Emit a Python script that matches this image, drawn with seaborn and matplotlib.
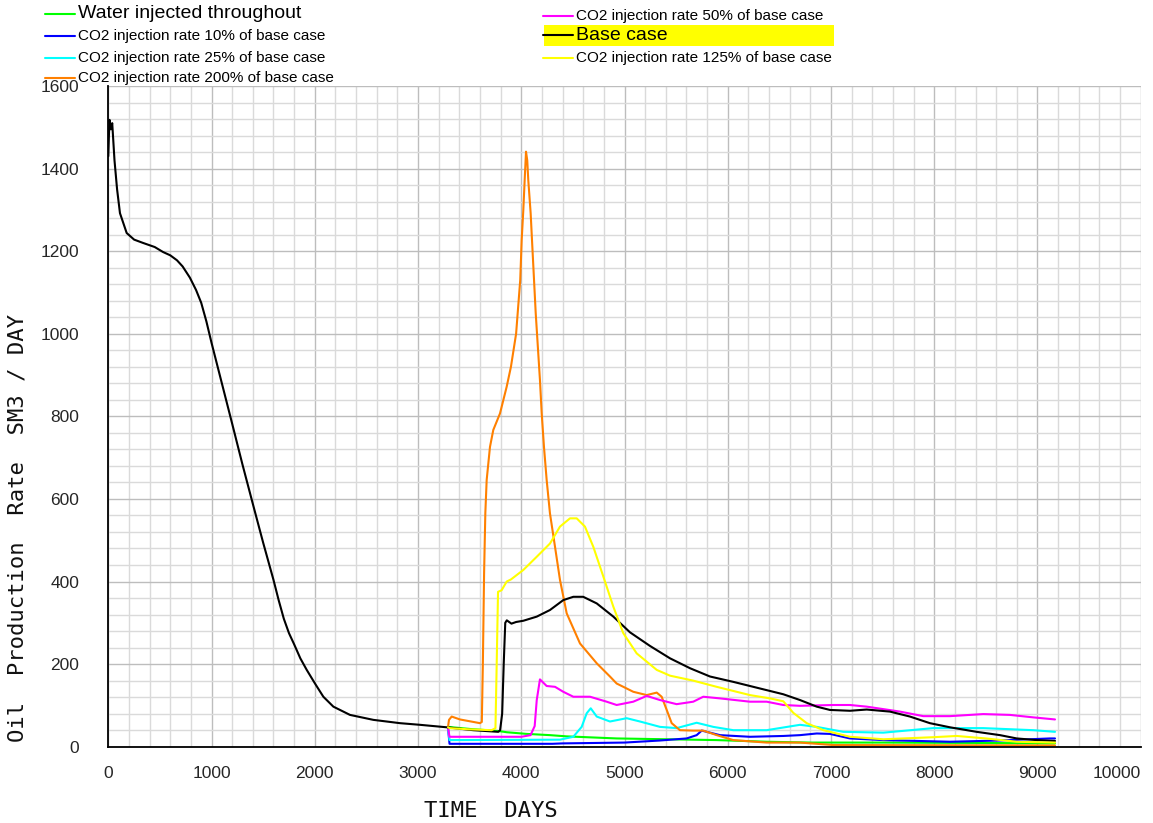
import numpy as np
import pandas as pd
import matplotlib
matplotlib.use("Agg")
import matplotlib.pyplot as plt
from matplotlib.lines import Line2D
from matplotlib.patches import Rectangle
from matplotlib.ticker import MultipleLocator
import seaborn as sns

# ---------------- data ----------------
t_base = [0, 6, 12, 25, 38, 60, 85, 113, 178, 250, 336, 450, 530, 600, 665, 720,
          790, 850, 900, 950, 1000, 1100, 1200, 1300, 1400, 1500, 1600, 1650, 1700,
          1750, 1800, 1860, 1922, 2002, 2083, 2180, 2341, 2567, 2825, 3019, 3278,
          3535, 3778, 3795, 3815, 3830, 3845, 3860, 3905, 3950, 4020, 4150, 4278,
          4407, 4504, 4600, 4731, 4892, 5053, 5247, 5441, 5635, 5828, 6054, 6312,
          6538, 6700, 6862, 6990, 7184, 7346, 7571, 7765, 7958, 8152, 8411, 8637,
          8799, 8992, 9170]
q_base = [1430, 1480, 1518, 1495, 1510, 1420, 1350, 1292, 1244, 1228, 1220, 1210,
          1198, 1190, 1178, 1163, 1136, 1106, 1075, 1030, 978, 880, 782, 683, 588,
          494, 404, 355, 310, 275, 248, 214, 186, 153, 121, 97, 77, 65, 57, 53, 47,
          40, 36, 40, 80, 200, 300, 306, 298, 302, 305, 315, 331, 355, 363, 363,
          347, 315, 277, 244, 214, 190, 170, 157, 141, 127, 113, 97, 89, 87, 90, 85,
          73, 57, 47, 36, 28, 20, 16, 14]

t_water = [3290, 3500, 3780, 3860, 4053, 4278, 4440, 4924, 5409, 5893, 6377, 6800,
           7500, 8500, 9170]
q_water = [48, 43, 38, 35, 31, 28, 25, 20, 18, 16, 12, 10, 10, 9, 8]

t_10 = [3290, 3305, 4300, 4400, 5000, 5344, 5602, 5699, 5748, 5796, 5925, 6215,
        6538, 6700, 6862, 6990, 7184, 7507, 8152, 8637, 9121, 9170]
q_10 = [47, 7, 7, 8, 10, 15, 20, 28, 39, 36, 28, 24, 26, 28, 32, 31, 20, 16, 12,
        15, 20, 20]

t_25 = [3290, 3305, 4375, 4504, 4585, 4634, 4673, 4731, 4859, 5021, 5150, 5344,
        5505, 5699, 5860, 6054, 6377, 6700, 6862, 7120, 7507, 7991, 8475, 8960, 9170]
q_25 = [47, 16, 17, 24, 48, 81, 93, 73, 61, 69, 61, 48, 45, 58, 48, 40, 40, 53,
        48, 36, 34, 45, 45, 40, 36]

t_200 = [3290, 3300, 3326, 3406, 3600, 3618, 3628, 3640, 3652, 3665, 3697, 3729,
         3794, 3859, 3900, 3950, 3990, 4004, 4020, 4033, 4046, 4058, 4068, 4091,
         4104, 4140, 4181, 4198, 4220, 4246, 4278, 4327, 4375, 4440, 4569, 4731,
         4859, 4924, 5085, 5215, 5312, 5360, 5409, 5457, 5537, 5666, 5763, 5893,
         6054, 6377, 6700, 7023, 9170]
q_200 = [47, 65, 73, 66, 57, 60, 200, 420, 566, 646, 726, 767, 807, 872, 920,
         1000, 1130, 1227, 1300, 1372, 1441, 1420, 1372, 1292, 1227, 1050, 888,
         807, 726, 646, 565, 484, 404, 323, 250, 202, 170, 153, 133, 125, 131, 121,
         89, 57, 40, 39, 39, 28, 16, 10, 10, 4, 3]

t_50 = [3290, 3305, 4000, 4090, 4130, 4150, 4181, 4246, 4327, 4407, 4504, 4666,
        4827, 4924, 5085, 5215, 5344, 5505, 5666, 5763, 5925, 6215, 6377, 6538,
        6700, 7023, 7184, 7346, 7668, 7894, 8152, 8475, 8734, 8960, 9170]
q_50 = [47, 24, 24, 28, 50, 113, 163, 147, 145, 133, 121, 121, 109, 101, 109,
        123, 113, 103, 109, 121, 117, 109, 109, 101, 99, 101, 101, 97, 85, 74, 74,
        79, 77, 71, 66]

t_125 = [3290, 3305, 3500, 3713, 3750, 3762, 3775, 3810, 3859, 3900, 4020, 4150,
         4278, 4375, 4472, 4537, 4617, 4698, 4795, 4892, 4988, 5118, 5312, 5441,
         5666, 5893, 6215, 6409, 6538, 6635, 6765, 6926, 7184, 7507, 7991, 8217,
         8500, 8800, 9170]
q_125 = [47, 45, 42, 40, 45, 200, 375, 379, 400, 405, 428, 460, 492, 533, 553,
         553, 533, 484, 412, 339, 275, 226, 186, 172, 160, 145, 125, 117, 110, 82,
         57, 40, 24, 18, 23, 26, 20, 12, 10]

labels = ["Water injected throughout",
          "CO2 injection rate 10% of base case",
          "CO2 injection rate 25% of base case",
          "CO2 injection rate 200% of base case",
          "CO2 injection rate 50% of base case",
          "Base case",
          "CO2 injection rate 125% of base case"]
colors = ["#00ff00", "#0000ff", "#00ffff", "#ff8000", "#ff00ff", "#000000", "#ffff00"]
series = [(t_water, q_water), (t_10, q_10), (t_25, q_25), (t_200, q_200),
          (t_50, q_50), (t_base, q_base), (t_125, q_125)]

x_major = np.arange(0, 10001, 1000)
y_major = np.arange(0, 1601, 200)

# ---------------- build long-form table ----------------
frames = []
for lab, (t, q) in zip(labels, series):
    frames.append(pd.DataFrame({"TIME": t, "RATE": q, "case": lab}))
df = pd.concat(frames, ignore_index=True)
palette = dict(zip(labels, colors))

sns.set_style("white")
plt.rcParams['font.family'] = ['Liberation Sans', 'DejaVu Sans']

W, H = 1153, 823
fig = plt.figure(figsize=(W / 100, H / 100), dpi=100)
ax = fig.add_axes([108.3 / W, (H - 746.7) / H, (1140.7 - 108.3) / W, (746.7 - 86) / H])

sns.lineplot(data=df, x="TIME", y="RATE", hue="case", hue_order=labels,
             palette=palette, estimator=None, sort=False, legend=False,
             linewidth=1.5, ax=ax)

ax.set_xlim(0, 10000)
ax.set_ylim(0, 1600)
ax.set_xticks(x_major)
ax.set_yticks(y_major)
ax.xaxis.set_minor_locator(MultipleLocator(200))
ax.yaxis.set_minor_locator(MultipleLocator(40))
ax.grid(which="major", color="#bdbdbd", linewidth=1.0)
ax.grid(which="minor", color="#dadada", linewidth=1.0)
ax.set_axisbelow(True)
ax.set_xlabel("")
ax.set_ylabel("")

for s in ["top", "right"]:
    ax.spines[s].set_visible(False)
for s in ["left", "bottom"]:
    ax.spines[s].set_color("black")
    ax.spines[s].set_linewidth(1.3)

ax.tick_params(axis="y", which="major", direction="out", length=16, width=1.2,
               color="black", labelsize=12.5, pad=5)
ax.tick_params(axis="y", which="minor", direction="out", length=9, width=1.0,
               color="#555555")
ax.tick_params(axis="x", which="major", direction="out", length=11, width=1.2,
               color="black", labelsize=12.5, pad=3)
ax.tick_params(axis="x", which="minor", direction="out", length=6, width=1.0,
               color="#333333")
xt = ax.get_xticklabels()
xt[-1].set_horizontalalignment("right")

# axis titles
fig.text(18 / W, 1 - 528 / H, "Oil  Production  Rate  SM3 / DAY", rotation=90,
         ha="center", va="center", fontsize=16, family=["DejaVu Sans Mono"],
         color="#111111")
fig.text(491 / W, 1 - 811 / H, "TIME  DAYS", ha="center", va="center",
         fontsize=16, family=["DejaVu Sans Mono"], color="#111111")

# legend (manual, outside the axes at the top)
fig.add_artist(Rectangle((543.8 / W, 1 - 45.7 / H), (833.6 - 543.8) / W, (45.7 - 25) / H,
                         transform=fig.transFigure, facecolor="#ffff00",
                         edgecolor="none", zorder=0))
entries = [
    (labels[0], colors[0], 45, 14, 14),
    (labels[1], colors[1], 45, 36, 11),
    (labels[2], colors[2], 45, 58, 11),
    (labels[3], colors[3], 45, 78, 11),
    (labels[4], colors[4], 543, 16, 11),
    (labels[5], colors[5], 543, 35, 14),
    (labels[6], colors[6], 543, 57.7, 11),
]
for lab, col, x0, y0, fs in entries:
    fig.add_artist(Line2D([x0 / W, (x0 + 30) / W], [1 - y0 / H, 1 - y0 / H],
                          transform=fig.transFigure, color=col, linewidth=1.5))
    fig.text((x0 + 33) / W, 1 - y0 / H, lab, ha="left", va="center",
             fontsize=fs, color="black")

fig.savefig("out.png", dpi=100)
